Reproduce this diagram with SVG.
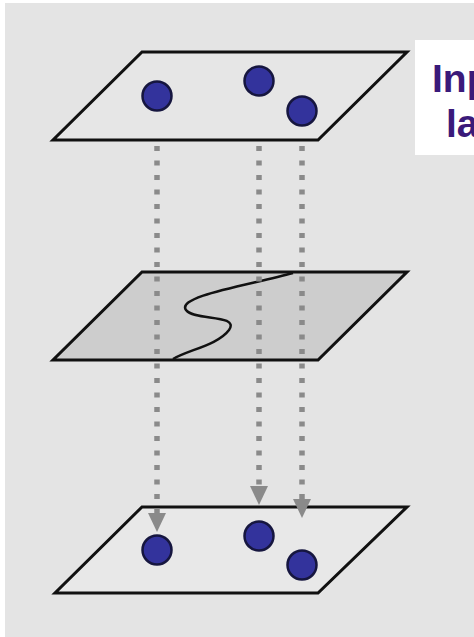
<svg xmlns="http://www.w3.org/2000/svg" width="474" height="637" viewBox="0 0 474 637">
<style>
.plane{stroke:#111;stroke-width:3;stroke-linejoin:miter}
.dot{fill:#33339c;stroke:#16163f;stroke-width:2.5}
.link{stroke:#8a8a8a;stroke-width:5.5;stroke-dasharray:5 9.5;fill:none}
.lbl{font-family:"Liberation Sans",Arial,sans-serif;font-weight:bold;font-size:39px;fill:#3a1a7a}
</style>
<defs>
<marker id="arr" markerUnits="userSpaceOnUse" viewBox="0 0 19 18" refX="0" refY="9" markerWidth="19" markerHeight="18" orient="auto">
<path d="M0,0 L19,9 L0,18 z" fill="#8a8a8a"/>
</marker>
</defs>
<rect x="0" y="0" width="474" height="637" fill="#ffffff"/>
<rect x="5" y="3" width="469" height="634" fill="#e4e4e4"/>
<g id="label">
<rect x="415" y="40" width="59" height="115" fill="#ffffff"/>
<text class="lbl" x="432" y="92">Inp</text>
<text class="lbl" x="446" y="137">la</text>
</g>
<g id="input-layer">
<polygon class="plane" points="142,52 407,52 318,140 53,140" fill="#e6e6e6"/>
<circle class="dot" cx="157" cy="96" r="14.5"/>
<circle class="dot" cx="259" cy="81" r="14.5"/>
<circle class="dot" cx="302" cy="111" r="14.5"/>
</g>
<g id="hidden-layer">
<polygon class="plane" points="142,272 407,272 318,360 53,360" fill="#cdcdcd"/>
<path d="M293,273 C250,285 176,296 186,310 C194,321 240,314 229,330 C218,345 188,350 173,359" fill="none" stroke="#111" stroke-width="2.5"/>
</g>
<g id="output-layer">
<polygon class="plane" points="142,507 407,507 318,593 55,593" fill="#e8e8e8"/>
<circle class="dot" cx="157" cy="550" r="14.5"/>
<circle class="dot" cx="259" cy="536" r="14.5"/>
<circle class="dot" cx="302" cy="565" r="14.5"/>
</g>
<g id="connectors">
<line class="link" x1="157" y1="146" x2="157" y2="513" marker-end="url(#arr)"/>
<line class="link" x1="259" y1="146" x2="259" y2="486" marker-end="url(#arr)"/>
<line class="link" x1="302" y1="146" x2="302" y2="499" marker-end="url(#arr)"/>
</g>
</svg>
